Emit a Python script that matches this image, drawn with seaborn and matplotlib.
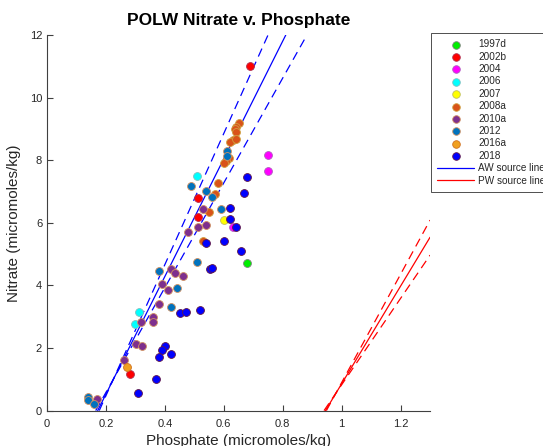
import matplotlib
matplotlib.use("Agg")
import matplotlib.pyplot as plt
import seaborn as sns
import pandas as pd

sns.set_theme(style="white")
plt.rcParams['font.family'] = ['Liberation Sans', 'DejaVu Sans']

years = ["1997d", "2002b", "2004", "2006", "2007", "2008a", "2010a", "2012", "2016a", "2018"]
face_colors = ["#00ee00", "#ff0000", "#ff00ff", "#00ffff", "#ffff00", "#d95319",
               "#7e2f8e", "#0072bd", "#f0a020", "#0000ff"]
edge_colors = ["#808080", "#b03050", "#b060c0", "#80c0c0", "#c0c060", "#d0a040",
               "#d09060", "#d09060", "#d07020", "#601848"]

phosphate = {
    "1997d": [0.68],
    "2002b": [0.69, 0.511, 0.511, 0.28],
    "2004": [0.75, 0.75, 0.63],
    "2006": [0.51, 0.311, 0.299],
    "2007": [0.599],
    "2008a": [0.65, 0.642, 0.639, 0.641, 0.631, 0.62, 0.641, 0.618, 0.608, 0.599,
              0.58, 0.57, 0.551, 0.53],
    "2010a": [0.529, 0.54, 0.511, 0.48, 0.461, 0.42, 0.433, 0.39, 0.41, 0.381, 0.32,
              0.359, 0.359, 0.302, 0.321, 0.26, 0.17],
    "2012": [0.611, 0.611, 0.539, 0.56, 0.59, 0.49, 0.509, 0.381, 0.441, 0.42,
             0.14, 0.14, 0.16],
    "2016a": [0.271],
    "2018": [0.68, 0.669, 0.621, 0.621, 0.64, 0.54, 0.60, 0.66, 0.552, 0.561, 0.45,
             0.47, 0.52, 0.40, 0.39, 0.42, 0.381, 0.371, 0.31],
}
nitrate = {
    "1997d": [4.73],
    "2002b": [11.0, 6.79, 6.17, 1.18],
    "2004": [8.18, 7.64, 5.85],
    "2006": [7.48, 3.14, 2.76],
    "2007": [6.09],
    "2008a": [9.2, 9.06, 9.0, 8.9, 8.63, 8.58, 8.69, 8.07, 7.99, 7.91,
              7.27, 6.93, 6.33, 5.42],
    "2010a": [6.45, 5.94, 5.87, 5.70, 4.29, 4.51, 4.41, 4.06, 3.86, 3.41, 2.83,
              3.0, 2.83, 2.12, 2.06, 1.61, 0.36],
    "2012": [8.29, 8.13, 7.01, 6.81, 6.45, 7.16, 4.75, 4.45, 3.93, 3.31,
             0.44, 0.34, 0.21],
    "2016a": [1.40],
    "2018": [7.47, 6.95, 6.47, 6.11, 5.86, 5.34, 5.43, 5.11, 4.51, 4.55, 3.11,
             3.14, 3.2, 2.07, 1.94, 1.81, 1.71, 1.0, 0.55],
}

# source lines: (pivot P, pivot N, slope)
aw_solid = (0.172, 0.0, 18.8)
aw_dashed = [(0.225, 1.0, 20.95), (0.225, 1.0, 16.74)]
pw_solid = (0.945, 0.0, 15.6)
pw_dashed = [(0.98, 0.55, 17.3), (0.98, 0.55, 13.8)]

x_ticks = [0, 0.2, 0.4, 0.6, 0.8, 1.0, 1.2]
x_tick_labels = ["0", "0.2", "0.4", "0.6", "0.8", "1", "1.2"]
y_ticks = [0, 2, 4, 6, 8, 10, 12]

rows = []
for y in years:
    for p, n in zip(phosphate[y], nitrate[y]):
        rows.append({"year": y, "Phosphate": p, "Nitrate": n})
df = pd.DataFrame(rows)

fig = plt.figure(figsize=(5.43, 4.46), dpi=100)
ax = fig.add_axes([0.0866, 0.0794, 0.7054, 0.8421])

for y, fc, ec in zip(years, face_colors, edge_colors):
    sns.scatterplot(data=df[df["year"] == y], x="Phosphate", y="Nitrate", ax=ax,
                    color=fc, edgecolor=ec, linewidth=0.6, s=32, label=y, zorder=3)

blue = "#0000ff"
red = "#ff0000"
ax.axline((aw_solid[0], aw_solid[1]), slope=aw_solid[2], color=blue, lw=0.9,
          label="AW source line", zorder=2)
for p0, n0, s in aw_dashed:
    ax.axline((p0, n0), slope=s, color=blue, lw=0.9, dashes=(7, 4.5), zorder=2)
ax.axline((pw_solid[0], pw_solid[1]), slope=pw_solid[2], color=red, lw=0.9,
          label="PW source line", zorder=2)
for p0, n0, s in pw_dashed:
    ax.axline((p0, n0), slope=s, color=red, lw=0.9, dashes=(7, 4.5), zorder=2)

ax.set_xlim(0, 1.3)
ax.set_ylim(0, 12)
ax.set_xticks(x_ticks)
ax.set_xticklabels(x_tick_labels)
ax.set_yticks(y_ticks)
for side in ["top", "right"]:
    ax.spines[side].set_visible(False)
for side in ["left", "bottom"]:
    ax.spines[side].set_color("#404040")
    ax.spines[side].set_linewidth(0.8)
ax.tick_params(direction="in", length=4, width=0.8, colors="#404040",
               labelsize=8, labelcolor="#262626", left=True, bottom=True)
ax.tick_params(axis="x", pad=6)
ax.set_xlabel("Phosphate (micromoles/kg)", fontsize=11, color="#262626", labelpad=4)
ax.set_ylabel("Nitrate (micromoles/kg)", fontsize=11, color="#262626", labelpad=6)
ax.set_title("POLW Nitrate v. Phosphate", fontsize=12.5, fontweight="bold",
             color="black", pad=7)
ax.grid(False)

handles, labels = ax.get_legend_handles_labels()
leg = ax.legend(handles, labels, loc="upper left", bbox_to_anchor=(1.003, 1.005),
                fontsize=7.2, frameon=True, fancybox=False, borderaxespad=0,
                handlelength=3.7, handletextpad=0.4, labelspacing=0.24,
                borderpad=0.6)
leg.get_frame().set_edgecolor("black")
leg.get_frame().set_linewidth(0.6)
for h in leg.legend_handles[:len(years)]:
    try:
        h.set_sizes([30])
    except Exception:
        pass

fig.savefig("out.png", dpi=100)
